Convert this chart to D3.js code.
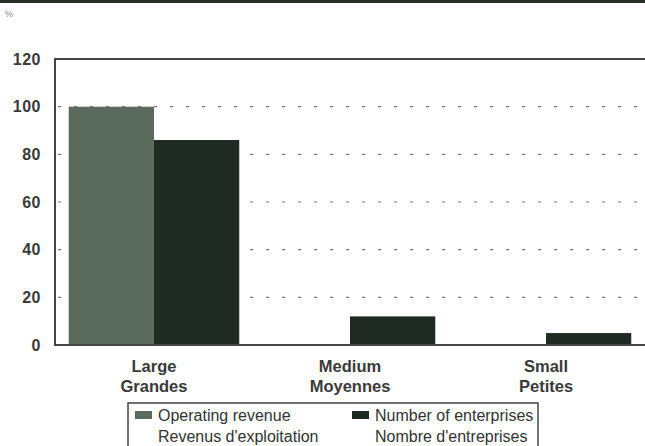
<!DOCTYPE html>
<html>
<head>
<meta charset="utf-8">
<script src="https://cdn.jsdelivr.net/npm/d3@7"></script>
<style>
  body { margin: 0; background: #fff; }
  svg { font-family: "Liberation Sans", Arial, sans-serif; }
</style>
</head>
<body>
<div id="chart"></div>
<script>
// size groups, english / french
var categories = ["Large", "Medium", "Small"];
var categoriesFr = ["Grandes", "Moyennes", "Petites"];
// values in %
var revenue = [100, 0, 0];
var enterprises = [86, 12, 5];
var yTicks = [0, 20, 40, 60, 80, 100, 120];

var width = 645;
var height = 446;
var plotLeft = 55, plotTop = 59, plotBottom = 345, plotRight = 645;

var svg = d3.select("#chart")
    .append("svg")
    .attr("width", width)
    .attr("height", height);

// scan border at top
svg.append("rect")
    .attr("x", 0).attr("y", 0)
    .attr("width", width).attr("height", 3)
    .attr("fill", "#2a2f2c");

svg.append("text")
    .attr("x", 5).attr("y", 17)
    .attr("font-size", 9)
    .attr("fill", "#888")
    .text("%");

var x = d3.scaleBand()
    .domain(categories)
    .range([56, 644])
    .paddingInner(0.13)
    .paddingOuter(0.065);

var xSeries = d3.scaleBand()
    .domain(["revenue", "enterprises"])
    .range([0, x.bandwidth()]);

var y = d3.scaleLinear()
    .domain([0, 120])
    .range([plotBottom, plotTop]);

// dotted gridlines
svg.selectAll(".grid")
    .data(yTicks.filter(function (d) { return d > 0 && d < 120; }))
    .enter()
    .append("line")
    .attr("class", "grid")
    .attr("x1", plotLeft + 3)
    .attr("x2", 642)
    .attr("y1", function (d) { return y(d); })
    .attr("y2", function (d) { return y(d); })
    .attr("stroke", "#777")
    .attr("stroke-width", 1.2)
    .attr("stroke-dasharray", "3,13");

var data = categories.map(function (c, i) {
    return { cat: c, revenue: revenue[i], enterprises: enterprises[i] };
});

var group = svg.selectAll(".group")
    .data(data)
    .enter()
    .append("g")
    .attr("transform", function (d) { return "translate(" + x(d.cat) + ",0)"; });

var colors = { revenue: "#5a6a5d", enterprises: "#1f2b22" };

group.selectAll("rect")
    .data(function (d) {
        return ["revenue", "enterprises"].map(function (k) { return { key: k, value: d[k] }; });
    })
    .enter()
    .append("rect")
    .attr("x", function (d) { return xSeries(d.key); })
    .attr("width", xSeries.bandwidth())
    .attr("y", function (d) { return y(d.value); })
    .attr("height", function (d) { return plotBottom - y(d.value); })
    .attr("fill", function (d) { return colors[d.key]; });

// frame: left, top, bottom
svg.append("path")
    .attr("d", "M" + plotRight + "," + plotTop + "H" + plotLeft + "V" + plotBottom + "H" + plotRight)
    .attr("fill", "none")
    .attr("stroke", "#444")
    .attr("stroke-width", 2);

// y axis labels
svg.selectAll(".ytick")
    .data(yTicks)
    .enter()
    .append("text")
    .attr("x", 41)
    .attr("y", function (d) { return y(d); })
    .attr("dy", "0.35em")
    .attr("text-anchor", "end")
    .attr("font-size", 16)
    .attr("font-weight", "bold")
    .attr("letter-spacing", 0.5)
    .attr("fill", "#3a3a3a")
    .text(function (d) { return d; });

// category labels
var labels = svg.selectAll(".cat")
    .data(categories)
    .enter()
    .append("text")
    .attr("text-anchor", "middle")
    .attr("font-size", 16.5)
    .attr("font-weight", "bold")
    .attr("fill", "#3a3a3a")
    .attr("transform", function (d) { return "translate(" + (x(d) + x.bandwidth() / 2) + ",0)"; });
labels.append("tspan").attr("x", 0).attr("y", 372).text(function (d) { return d; });
labels.append("tspan").attr("x", 0).attr("y", 392).text(function (d, i) { return categoriesFr[i]; });

// legend
var legendItems = [
    { key: "revenue", en: "Operating revenue", fr: "Revenus d'exploitation" },
    { key: "enterprises", en: "Number of enterprises", fr: "Nombre d'entreprises" }
];
svg.append("rect")
    .attr("x", 128).attr("y", 403)
    .attr("width", 410).attr("height", 50)
    .attr("fill", "none")
    .attr("stroke", "#444")
    .attr("stroke-width", 1.5);

var legend = svg.selectAll(".legend")
    .data(legendItems)
    .enter()
    .append("g")
    .attr("transform", function (d, i) { return "translate(" + (135 + i * 217) + ",411)"; });
legend.append("rect")
    .attr("x", 0).attr("y", 0)
    .attr("width", 17).attr("height", 8)
    .attr("fill", function (d) { return colors[d.key]; });
legend.append("text")
    .attr("x", 23).attr("y", 10)
    .attr("font-size", 16)
    .attr("fill", "#333")
    .text(function (d) { return d.en; });
legend.append("text")
    .attr("x", 23).attr("y", 31)
    .attr("font-size", 16)
    .attr("fill", "#333")
    .text(function (d) { return d.fr; });
</script>
</body>
</html>
